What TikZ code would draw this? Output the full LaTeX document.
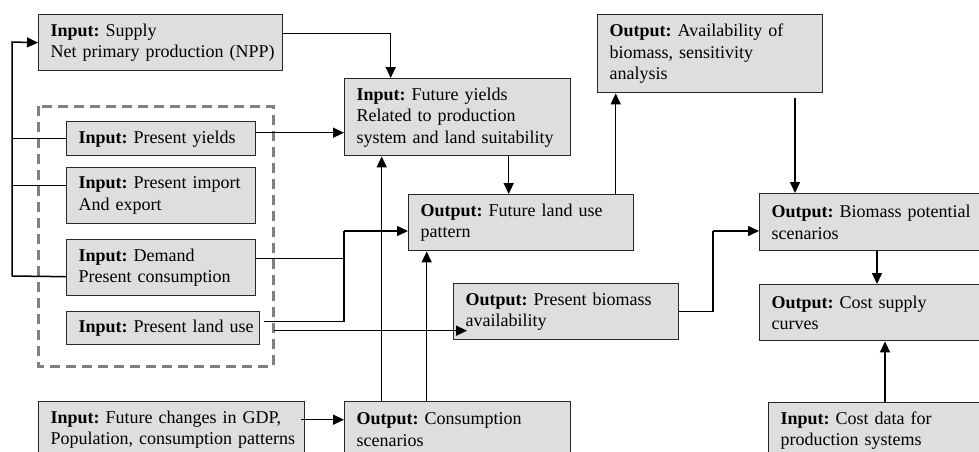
\documentclass[tikz,border=0pt]{standalone}
\usepackage{fontspec}
\setmainfont{Liberation Serif}
\usetikzlibrary{arrows.meta}
\definecolor{boxfill}{RGB}{222,222,222}
\definecolor{boxline}{RGB}{40,40,40}
\definecolor{dashgray}{RGB}{128,128,128}
\newcommand\keepline[1]{\mbox{#1}}
\frenchspacing
\tikzset{
  fbox/.style={draw=boxline, fill=boxfill, line width=1.4pt, anchor=north west,
    inner xsep=12pt, inner ysep=0pt, align=left,
    font=\fontsize{18}{21.5}\selectfont},
  arr/.style={draw=black, line width=1.5pt, -{Triangle[length=11pt,width=10pt]}},
  con/.style={draw=black, line width=1.5pt},
  groupframe/.style={draw=dashgray, line width=3pt, dash pattern=on 10pt off 6pt},
}
\begin{document}
\begin{tikzpicture}[x=1pt,y=-1pt]
\useasboundingbox (0,0) rectangle (979,452);
\clip (0,0) rectangle (979,452);

% group frame
\draw[groupframe] (38,106) rectangle (273,366);

% left column
\node[fbox, text width=220pt, minimum height=56pt] (supply) at (38,14)
  {\keepline{\textbf{Input:} Supply}\\\keepline{Net primary production (NPP)}};
\node[fbox, text width=165pt, minimum height=34pt] (yields) at (66,121)
  {\keepline{\textbf{Input:} Present yields}};
\node[fbox, text width=165pt, minimum height=56pt] (import) at (66,167)
  {\keepline{\textbf{Input:} Present import}\\\keepline{And export}};
\node[fbox, text width=165pt, minimum height=56pt] (demand) at (66,239)
  {\keepline{\textbf{Input:} Demand}\\\keepline{Present consumption}};
\node[fbox, text width=169pt, minimum height=33pt] (landuse) at (66,311)
  {\keepline{\textbf{Input:} Present land use}};
\node[fbox, text width=242pt, minimum height=56pt] (fchanges) at (38,401)
  {\keepline{\textbf{Input:} Future changes in GDP,}\\\keepline{Population, consumption patterns}};

% middle
\node[fbox, text width=202pt, minimum height=77pt] (fyields) at (344,78)
  {\keepline{\textbf{Input:} Future yields}\\\keepline{Related to production}\\\keepline{system and land suitability}};
\node[fbox, text width=201pt, minimum height=56pt] (fland) at (408,194)
  {\keepline{\textbf{Output:} Future land use}\\\keepline{pattern}};
\node[fbox, text width=201pt, minimum height=56pt] (pbio) at (453,283)
  {\keepline{\textbf{Output:} Present biomass}\\\keepline{availability}};
\node[fbox, text width=202pt, minimum height=56pt] (cons) at (344,401)
  {\keepline{\textbf{Output:} Consumption}\\\keepline{scenarios}};

% right
\node[fbox, text width=201pt, minimum height=78pt] (avail) at (597,14)
  {\keepline{\textbf{Output:} Availability of}\\\keepline{biomass, sensitivity}\\\keepline{analysis}};
\node[fbox, text width=216pt, minimum height=57pt] (bpot) at (759,193)
  {\keepline{\textbf{Output:} Biomass potential}\\\keepline{scenarios}};
\node[fbox, text width=216pt, minimum height=56pt] (csupply) at (759,284)
  {\keepline{\textbf{Output:} Cost supply}\\\keepline{curves}};
\node[fbox, text width=216pt, minimum height=56pt] (cdata) at (768,402)
  {\keepline{\textbf{Input:} Cost data for}\\\keepline{production systems}};

% junction coordinates
\coordinate (bustop) at (12,42);
\coordinate (busbot) at (12,276);
\coordinate (jn) at (344,231);
\coordinate (jn2) at (713,231);

% left bus to supply
\draw[arr] (busbot) -- (bustop) -- (supply.west);
\draw[con] (yields.west) -- (yields.west -| bustop);
\draw[con] ([yshift=10pt]import.west) -- ([yshift=10pt]import.west -| bustop);
\draw[con] ([yshift=-9pt]demand.west) -- (busbot);

% supply to future yields
\draw[arr] ([yshift=9pt]supply.east) -| ([xshift=-67pt]fyields.north);
% present yields to future yields
\draw[arr] ([yshift=6pt]yields.east) -- ([yshift=6pt]yields.east -| fyields.west);
% future yields to future land use
\draw[arr] ([xshift=51pt]fyields.south) -- ([xshift=51pt]fyields.south |- fland.north);
% future land use to availability
\draw[arr] ([xshift=-94.5pt]avail.south |- fland.north) -- ([xshift=-94.5pt]avail.south);
% availability to biomass potential
\draw[arr, shorten <=5pt] ([xshift=36pt]bpot.north west |- avail.south) -- ([xshift=36pt]bpot.north west);

% demand and land use to future land use
\draw[con] ([yshift=9pt]demand.east) -| (jn);
\draw[con] ([yshift=6.5pt, xshift=4pt]landuse.east) -| (jn);
\draw[arr] (jn) -- (jn -| fland.west);
% land use to present biomass
\draw[arr] ([yshift=-2.5pt, xshift=14pt]landuse.east) -- ([yshift=-2.5pt, xshift=14pt]landuse.east -| pbio.west);

% future changes to consumption
\draw[arr] ([yshift=10pt, xshift=-4pt]fchanges.east) -- ([yshift=10pt]fchanges.east -| cons.west);
% consumption to future yields and future land use
\draw[arr] ([xshift=-76pt]cons.north) -- ([xshift=-76pt]cons.north |- fyields.south);
\draw[arr] ([xshift=-31pt]cons.north) -- ([xshift=-31pt]cons.north |- fland.south);

% present biomass to biomass potential
\draw[con] (pbio.east) -| (jn2);
\draw[arr] (jn2) -- (jn2 -| bpot.west);
% biomass potential to cost supply
\draw[arr] ([xshift=118pt]bpot.south west) -- ([xshift=118pt]csupply.north west);
% cost data to cost supply
\draw[arr] ([xshift=117pt]cdata.north west) -- ([xshift=117pt]cdata.north west |- csupply.south);
\end{tikzpicture}
\end{document}
